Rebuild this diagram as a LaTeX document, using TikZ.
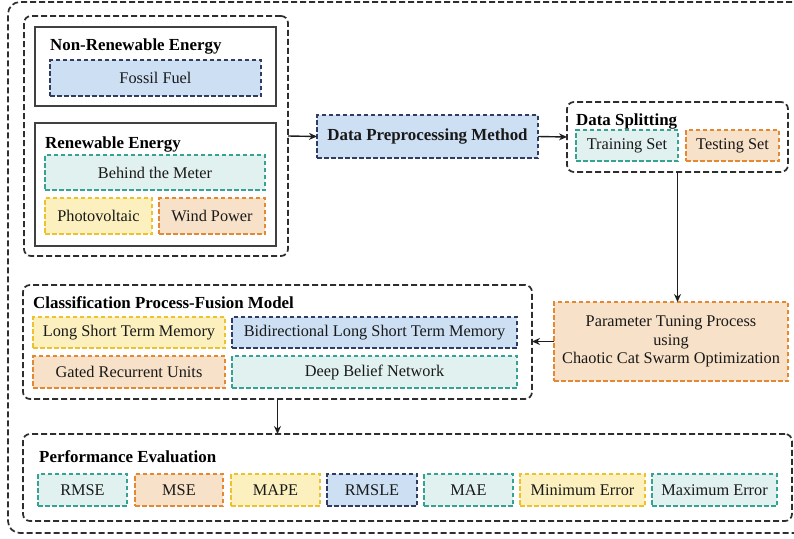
\documentclass[tikz,border=0pt]{standalone}
\usepackage{fontspec}
\setmainfont{Liberation Serif}
\usetikzlibrary{arrows.meta}
\definecolor{bluef}{HTML}{CCDFF3}
\definecolor{blued}{HTML}{303C63}
\definecolor{tealf}{HTML}{E1F1EF}
\definecolor{teald}{HTML}{35A293}
\definecolor{yelf}{HTML}{FCF0BE}
\definecolor{yeld}{HTML}{EDC22E}
\definecolor{orf}{HTML}{F7E1C8}
\definecolor{ord}{HTML}{E38933}
\definecolor{grpc}{HTML}{2E2E2E}
\definecolor{solc}{HTML}{404040}
\definecolor{arrc}{HTML}{1E1E1E}
\begin{document}
\begin{tikzpicture}[x=1pt,y=-1pt,
  grp/.style={draw=grpc, line width=1.7pt, dash pattern=on 6pt off 3pt, rounded corners=7pt, inner sep=0pt, outer sep=0pt, anchor=north west},
  solidbox/.style={draw=solc, line width=1.7pt, inner sep=0pt, outer sep=0pt, anchor=north west},
  cb/.style={line width=1.4pt, dash pattern=on 4.5pt off 2.5pt, inner sep=0pt, outer sep=0pt, anchor=north west, text=black!90, font=\fontsize{16.3}{18.5}\selectfont, align=center},
  blu/.style={cb, fill=bluef, draw=blued},
  tea/.style={cb, fill=tealf, draw=teald},
  yel/.style={cb, fill=yelf, draw=yeld},
  ora/.style={cb, fill=orf, draw=ord},
  ttl/.style={anchor=base west, inner sep=0pt, font=\bfseries\fontsize{16.9}{19}\selectfont},
  arr/.style={line width=1.4pt, draw=arrc, -{Stealth[length=8pt,width=7pt]}},
]
\useasboundingbox (0,0) rectangle (794,538);
\clip (0,0) rectangle (794,538);
\fill[white] (0,0) rectangle (794,538);

% outer frame
\node[grp, rounded corners=12pt, minimum width=805pt, minimum height=531pt] (outer) at (8,2) {};

% energy group
\node[grp, minimum width=264pt, minimum height=240pt] (eg) at (24,16) {};
\node[solidbox, minimum width=241pt, minimum height=79pt] (nre) at (35,27) {};
\node[ttl] (nret) at (50,50) {Non-Renewable Energy};
\node[blu, minimum width=211pt, minimum height=36pt] (ff) at (50,60) {Fossil Fuel};
\node[solidbox, minimum width=241pt, minimum height=123pt] (re) at (35,123) {};
\node[ttl] (ret) at (45,148) {Renewable Energy};
\node[tea, minimum width=220pt, minimum height=35pt] (btm) at (45,155) {Behind the Meter};
\node[yel, minimum width=107pt, minimum height=36pt] (pv) at (45,198) {Photovoltaic};
\node[ora, minimum width=106pt, minimum height=36pt] (wp) at (159,198) {Wind Power};

% data preprocessing
\node[blu, minimum width=221pt, minimum height=43pt, font=\bfseries\fontsize{16.9}{19}\selectfont] (dp) at (317,115) {Data Preprocessing Method};

% data splitting
\node[grp, minimum width=221pt, minimum height=70pt] (ds) at (567,102) {};
\node[ttl] (dst) at (576,125) {Data Splitting};
\node[tea, minimum width=102pt, minimum height=31pt] (ts) at (576,130) {Training Set};
\node[ora, minimum width=93pt, minimum height=31pt] (tes) at (686,130) {Testing Set};

% parameter tuning
\node[ora, minimum width=234pt, minimum height=79pt] (pt) at (554,302) {Parameter Tuning Process\\using\\Chaotic Cat Swarm Optimization};

% classification
\node[grp, minimum width=509pt, minimum height=114pt] (cls) at (23,285) {};
\node[ttl] (clst) at (33,308) {Classification Process-Fusion Model};
\node[yel, minimum width=192pt, minimum height=31pt] (lstm) at (33,317) {Long Short Term Memory};
\node[blu, minimum width=285pt, minimum height=31pt] (bil) at (232,317) {Bidirectional Long Short Term Memory};
\node[ora, minimum width=192pt, minimum height=32pt] (gru) at (33,356) {Gated Recurrent Units};
\node[tea, minimum width=285pt, minimum height=32pt] (dbn) at (232,356) {Deep Belief Network};

% performance evaluation
\node[grp, minimum width=769pt, minimum height=87pt] (pe) at (23,434) {};
\node[ttl] (pet) at (39,462) {Performance Evaluation};
\node[tea, minimum width=89pt, minimum height=32pt] (m1) at (38,474) {RMSE};
\node[ora, minimum width=88pt, minimum height=32pt] (m2) at (135,474) {MSE};
\node[yel, minimum width=89pt, minimum height=32pt] (m3) at (231,474) {MAPE};
\node[blu, minimum width=90pt, minimum height=32pt] (m4) at (327,474) {RMSLE};
\node[tea, minimum width=89pt, minimum height=32pt] (m5) at (424,474) {MAE};
\node[yel, minimum width=125pt, minimum height=32pt] (m6) at (520,474) {Minimum Error};
\node[tea, minimum width=125pt, minimum height=32pt] (m7) at (652,474) {Maximum Error};

% connectors
\draw[arr] (eg.east) -- (dp.west);
\draw[arr] (dp.east) -- (ds.west);
\draw[arr] (ds.south) -- (ds.south |- pt.north);
\draw[arr] (pt.west) -- (pt.west -| cls.east);
\draw[arr] (cls.south) -- (cls.south |- pe.north);
\end{tikzpicture}
\end{document}
